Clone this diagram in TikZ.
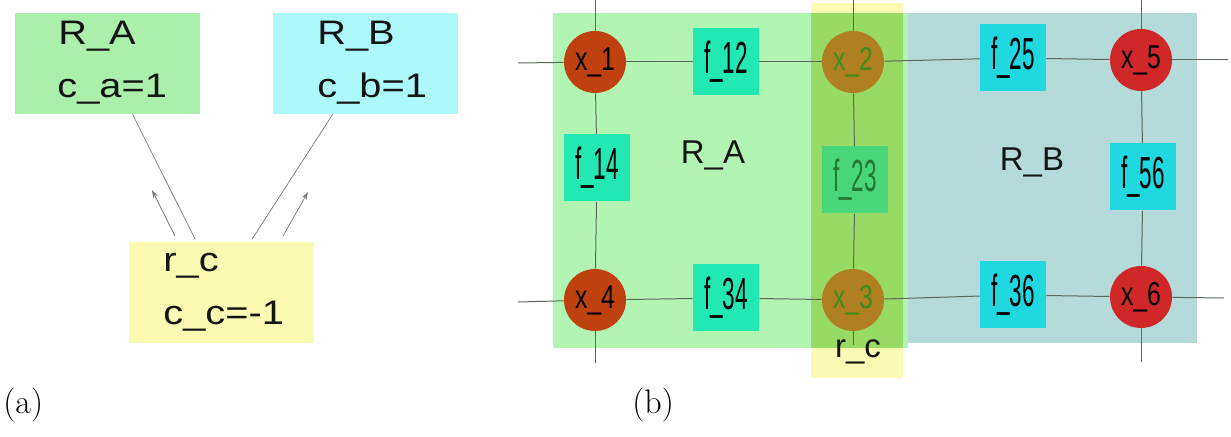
\documentclass[tikz,border=0pt]{standalone}
\usepackage{fontspec}
\usetikzlibrary{arrows.meta,calc}
\newfontfamily\sansA[FakeStretch=1.17]{Liberation Sans}
\newfontfamily\sansB{Liberation Sans}
\newfontfamily\narrowF[FakeStretch=0.5]{Liberation Sans}
\newfontfamily\narrowX[FakeStretch=0.75]{Liberation Sans}
\definecolor{boxA}{RGB}{170,240,170}
\definecolor{boxB}{RGB}{172,248,250}
\definecolor{boxC}{RGB}{250,250,178}
\definecolor{regA}{RGB}{178,245,178}
\definecolor{regB}{RGB}{180,218,218}
\definecolor{regC}{RGB}{250,250,180}
\definecolor{regAC}{RGB}{152,218,102}
\definecolor{fgreen}{RGB}{34,232,180}
\definecolor{fmix}{RGB}{72,214,120}
\definecolor{fcyan}{RGB}{32,216,224}
\definecolor{xbrown}{RGB}{190,65,15}
\definecolor{xolive}{RGB}{176,128,32}
\definecolor{xred}{RGB}{208,40,40}
\definecolor{linec}{RGB}{90,105,90}
\definecolor{txtgreen}{RGB}{60,140,30}
\definecolor{txtdkgreen}{RGB}{40,120,50}
\definecolor{arrc}{RGB}{120,120,120}
\definecolor{txtdark}{RGB}{20,20,20}
\tikzset{
  abox/.style={inner sep=0pt, minimum width=92.5pt, minimum height=50.5pt},
  atext/.style={anchor=base west, inner sep=0pt, text=txtdark, font=\sansA\fontsize{17}{17}\selectfont},
  fbox/.style={inner sep=0pt, minimum width=33pt, minimum height=33.5pt, font=\narrowF\fontsize{22.5}{22.5}\selectfont},
  xnode/.style={circle, inner sep=0pt, minimum size=31pt, font=\narrowX\fontsize{16.5}{16.5}\selectfont},
  edge/.style={draw=linec, line width=0.5pt},
  thinline/.style={draw=arrc, line width=0.35pt},
  thinarrow/.style={draw=arrc, line width=0.35pt, -{Stealth[length=4pt,width=2.6pt]}},
  caption/.style={anchor=base west, inner sep=0pt, font=\fontsize{17}{17}\selectfont},
  regtext/.style={inner sep=0pt, text=txtdark, font=\sansB\fontsize{16.5}{16.5}\selectfont}
}
\begin{document}
\begin{tikzpicture}[x=0.5pt,y=-0.5pt]
\useasboundingbox (0,0) rectangle (1231,437);
% ---------------- panel (a)
\node[abox, fill=boxA] (RA) at (107.5,63.5) {};
\node[abox, fill=boxB] (RB) at (365.5,63.5) {};
\node[abox, fill=boxC] (RC) at (221,293) {};
\node[atext] (ta1) at (58,45) {R\_A};
\node[atext] (ta2) at (57,98) {c\_a=1};
\node[atext] (tb1) at (317,45) {R\_B};
\node[atext] (tb2) at (317,98) {c\_b=1};
\node[atext] (tc1) at (163,272) {r\_c};
\node[atext] (tc2) at (163,325) {c\_c=-1};
\draw[thinline] ([xshift=33.5pt,yshift=1.5pt]RC.north west) -- ([xshift=59pt]RA.south west);
\draw[thinline] ([xshift=62pt,yshift=1.5pt]RC.north west) -- ([xshift=30pt]RB.south west);
\coordinate (la0) at (175,236);
\coordinate (la1) at (152,190);
\coordinate (ra0) at (283,236);
\coordinate (ra1) at (308,192);
\draw[thinarrow] (la0) -- (la1);
\draw[thinarrow] (ra0) -- (ra1);
\node[caption] (capa) at (3,414) {(a)};
% ---------------- panel (b) regions
\fill[regC] (811,3) rectangle (903,378);
\fill[regA] (553,13) rectangle (908,348);
\fill[regB] (908,13) rectangle (1197,343);
\fill[regAC] (811,13) rectangle (903,348);
% nodes
\node[xnode, fill=xbrown] (x1) at (595,62) {x\_1};
\node[xnode, fill=xolive, text=txtgreen] (x2) at (853,62) {x\_2};
\node[xnode, fill=xolive, text=txtgreen] (x3) at (853,300) {x\_3};
\node[xnode, fill=xbrown] (x4) at (595,300) {x\_4};
\node[xnode, fill=xred] (x5) at (1141,60) {x\_5};
\node[xnode, fill=xred] (x6) at (1141,297) {x\_6};
\node[fbox, fill=fgreen] (f12) at (726,62) {f\_12};
\node[fbox, fill=fgreen] (f14) at (597,168) {f\_14};
\node[fbox, fill=fmix, text=txtdkgreen] (f23) at (855,180) {f\_23};
\node[fbox, fill=fgreen] (f34) at (726,298) {f\_34};
\node[fbox, fill=fcyan] (f25) at (1013,58) {f\_25};
\node[fbox, fill=fcyan] (f56) at (1143,177) {f\_56};
\node[fbox, fill=fcyan] (f36) at (1013,295) {f\_36};
\node[regtext] (lRA) at (713,155) {R\_A};
\node[regtext] (lRB) at (1032,162) {R\_B};
\node[regtext] (lrc) at (858,352) {r\_c};
% free line ends
\coordinate (h1l) at (518,63);
\coordinate (h1r) at (1228,60);
\coordinate (h2l) at (518,302);
\coordinate (h2r) at (1224,298);
\coordinate (v1t) at (595,0);
\coordinate (v1b) at (595,363);
\coordinate (v2t) at (853,0);
\coordinate (v2b) at (853,345);
\coordinate (v3t) at (1141,0);
\coordinate (v3b) at (1141,362);
\draw[edge] (h1l) -- (x1);
\draw[edge] (x1) -- (f12);
\draw[edge] (f12) -- (x2);
\draw[edge] (x2) -- (f25);
\draw[edge] (f25) -- (x5);
\draw[edge] (x5) -- (h1r);
\draw[edge] (h2l) -- (x4);
\draw[edge] (x4) -- (f34);
\draw[edge] (f34) -- (x3);
\draw[edge] (x3) -- (f36);
\draw[edge] (f36) -- (x6);
\draw[edge] (x6) -- (h2r);
\draw[edge] (v1t) -- (x1);
\draw[edge] (x1) -- (f14);
\draw[edge] (f14) -- (x4);
\draw[edge] (x4) -- (v1b);
\draw[edge] (v2t) -- (x2);
\draw[edge] (x2) -- (f23);
\draw[edge] (f23) -- (x3);
\draw[edge] (x3) -- (v2b);
\draw[edge] (v3t) -- (x5);
\draw[edge] (x5) -- (f56);
\draw[edge] (f56) -- (x6);
\draw[edge] (x6) -- (v3b);
\node[caption] (capb) at (632,414) {(b)};
\end{tikzpicture}
\end{document}
